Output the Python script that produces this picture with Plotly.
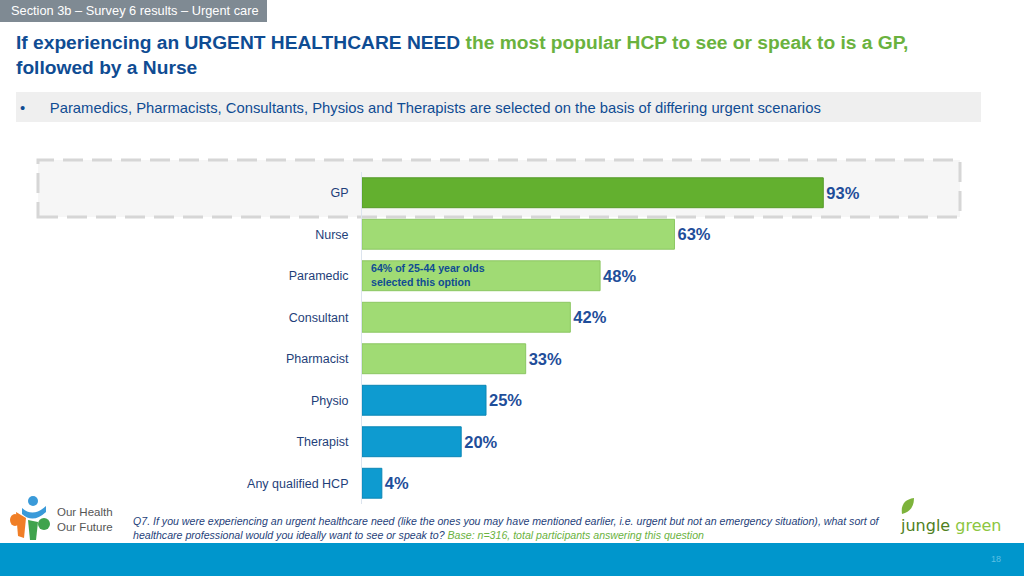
import plotly.graph_objects as go

# ---- data ----
categories = ["GP", "Nurse", "Paramedic", "Consultant", "Pharmacist", "Physio", "Therapist", "Any qualified HCP"]
values = [93, 63, 48, 42, 33, 25, 20, 4]
bar_colors = ["#63B02F", "#A0DB74", "#A0DB74", "#A0DB74", "#A0DB74", "#0E9BD0", "#0E9BD0", "#0E9BD0"]
border_colors = ["#559A28", "#8CC763", "#8CC763", "#8CC763", "#8CC763", "#0A86B5", "#0A86B5", "#0A86B5"]
value_labels = [f"{v}%" for v in values]

W, H = 1024, 576
def px(x):
    return x / W
def py(y):
    return 1 - y / H

BLUE = "#0F4C93"
GREEN = "#6AB23E"
TXT = "#1F3F7A"
FONT = "Liberation Sans, Arial"

fig = go.Figure()
fig.add_trace(go.Bar(
    y=categories, x=values, orientation="h",
    marker=dict(color=bar_colors, line=dict(color=border_colors, width=1)),
    width=0.72,
    text=value_labels, textposition="outside", cliponaxis=False,
    texttemplate="<b>%{text}</b>",
    textfont=dict(family=FONT, size=16.5, color="#1F4E9A"),
    hoverinfo="skip",
))

shapes = []
# header grey box
shapes.append(dict(type="rect", xref="paper", yref="paper", x0=px(0), x1=px(267), y0=py(22), y1=py(0),
                   fillcolor="#7F8A93", line=dict(width=0), layer="below"))
# bullet box
shapes.append(dict(type="rect", xref="paper", yref="paper", x0=px(16), x1=px(981), y0=py(122), y1=py(92),
                   fillcolor="#EFEFEF", line=dict(width=0), layer="below"))
# dashed highlight box
shapes.append(dict(type="rect", xref="paper", yref="paper", x0=px(38), x1=px(960), y0=py(217), y1=py(160),
                   fillcolor="#F6F6F6", line=dict(color="#D6D6D6", width=3, dash="20px,9px"), layer="below"))
# bottom band
shapes.append(dict(type="rect", xref="paper", yref="paper", x0=0, x1=1, y0=0, y1=py(543),
                   fillcolor="#0096CC", line=dict(width=0), layer="below"))
# Our Health Our Future icon (approximation)
shapes.append(dict(type="circle", xref="paper", yref="paper", x0=px(28), x1=px(38), y0=py(506), y1=py(496),
                   fillcolor="#3A9AD9", line=dict(width=0)))
shapes.append(dict(type="path", xref="paper", yref="paper",
                   path=f"M {px(22)},{py(508)} Q {px(33)},{py(518)} {px(46)},{py(506)} L {px(46)},{py(512)} Q {px(33)},{py(524)} {px(22)},{py(514)} Z",
                   fillcolor="#3A9AD9", line=dict(width=0)))
shapes.append(dict(type="circle", xref="paper", yref="paper", x0=px(10), x1=px(20), y0=py(526), y1=py(514),
                   fillcolor="#F07E26", line=dict(width=0)))
shapes.append(dict(type="path", xref="paper", yref="paper",
                   path=f"M {px(16)},{py(512)} L {px(26)},{py(518)} L {px(24)},{py(538)} L {px(18)},{py(536)} Z",
                   fillcolor="#F07E26", line=dict(width=0)))
shapes.append(dict(type="circle", xref="paper", yref="paper", x0=px(38), x1=px(50), y0=py(530), y1=py(518),
                   fillcolor="#3FA34D", line=dict(width=0)))
shapes.append(dict(type="path", xref="paper", yref="paper",
                   path=f"M {px(28)},{py(520)} L {px(38)},{py(522)} L {px(36)},{py(540)} L {px(30)},{py(540)} Z",
                   fillcolor="#3FA34D", line=dict(width=0)))
# jungle green leaf
shapes.append(dict(type="path", xref="paper", yref="paper",
                   path=f"M {px(902)},{py(514)} Q {px(900)},{py(500)} {px(914)},{py(498)} Q {px(914)},{py(511)} {px(902)},{py(514)} Z",
                   fillcolor="#7DB33B", line=dict(width=0)))

annotations = []
annotations.append(dict(xref="paper", yref="paper", x=px(9), y=py(11), xanchor="left", yanchor="middle",
                        text="Section 3b – Survey 6 results – Urgent care", showarrow=False,
                        font=dict(family=FONT, size=12.8, color="white")))
annotations.append(dict(xref="paper", yref="paper", x=px(14), y=py(30), xanchor="left", yanchor="top", align="left",
                        text=(f"<b><span style='color:{BLUE}'>If experiencing an URGENT HEALTHCARE NEED</span> "
                              f"<span style='color:{GREEN}'>the most popular HCP to see or speak to is a GP,</span><br>"
                              f"<span style='color:{BLUE}'>followed by a Nurse</span></b>"),
                        showarrow=False, font=dict(family=FONT, size=19.2, color=BLUE)))
annotations.append(dict(xref="paper", yref="paper", x=px(18), y=py(108), xanchor="left", yanchor="middle",
                        text="•      Paramedics, Pharmacists, Consultants, Physios and Therapists are selected on the basis of differing urgent scenarios",
                        showarrow=False, font=dict(family=FONT, size=14.8, color=BLUE)))
annotations.append(dict(xref="paper", yref="paper", x=px(369), y=py(275), xanchor="left", yanchor="middle", align="left",
                        text="<b>64% of 25-44 year olds<br>selected this option</b>",
                        showarrow=False, font=dict(family=FONT, size=10.6, color=BLUE)))
annotations.append(dict(xref="paper", yref="paper", x=px(131), y=py(528), xanchor="left", yanchor="middle", align="left",
                        text=("<i>Q7. If you were experiencing an urgent healthcare need (like the ones you may have mentioned earlier, i.e. urgent but not an emergency situation), what sort of<br>"
                              "healthcare professional would you ideally want to see or speak to? "
                              f"<span style='color:{GREEN}'>Base: n=316, total participants answering this question</span></i>"),
                        showarrow=False, font=dict(family=FONT, size=10.6, color=TXT)))
annotations.append(dict(xref="paper", yref="paper", x=px(55), y=py(519), xanchor="left", yanchor="middle", align="left",
                        text="Our Health<br>Our Future", showarrow=False,
                        font=dict(family=FONT, size=11.5, color="#555555")))
annotations.append(dict(xref="paper", yref="paper", x=px(898), y=py(525), xanchor="left", yanchor="middle",
                        text="<span style='color:#4F7F22'>jungle</span> <span style='color:#8DC63F'>green</span>",
                        showarrow=False, font=dict(family="DejaVu Sans, sans-serif", size=16, color="#4F7F22")))
annotations.append(dict(xref="paper", yref="paper", x=px(996), y=py(559), xanchor="center", yanchor="middle",
                        text="18", showarrow=False, font=dict(family=FONT, size=9, color="#5CC0E4")))

fig.update_layout(
    width=W, height=H,
    margin=dict(l=0, r=0, t=0, b=0),
    paper_bgcolor="white", plot_bgcolor="rgba(0,0,0,0)",
    showlegend=False,
    shapes=shapes, annotations=annotations,
    xaxis=dict(domain=[px(362), px(858)], range=[0, 100], visible=False, fixedrange=True),
    yaxis=dict(domain=[py(504), py(172)], autorange="reversed", categoryorder="array", categoryarray=categories,
               showline=True, linecolor="#DCE4EE", linewidth=1, showgrid=False, zeroline=False,
               ticks="", ticklabelstandoff=10,
               tickfont=dict(family=FONT, size=12.5, color=TXT), fixedrange=True),
)

fig.write_html("out.html", config={"displayModeBar": False},
               post_script="document.body.style.margin='0';document.body.style.overflow='hidden';")
